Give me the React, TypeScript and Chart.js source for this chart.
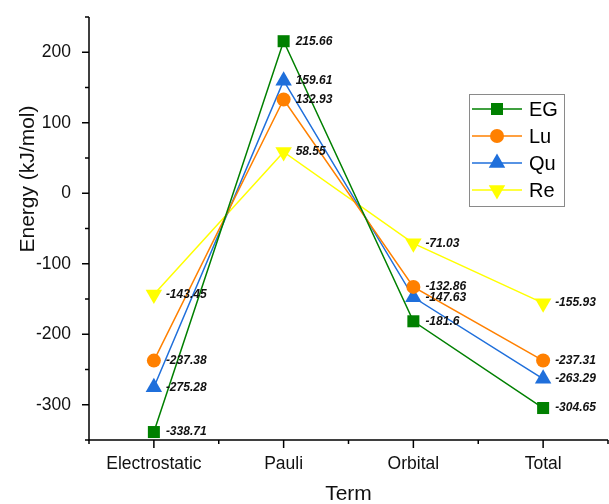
import React, { useEffect, useRef } from "react";
import { Chart, registerables } from "chart.js";

Chart.register(...registerables);

const categories = ["Electrostatic", "Pauli", "Orbital", "Total"];
const seriesNames = ["EG", "Lu", "Qu", "Re"];
const egValues = [-338.71, 215.66, -181.6, -304.65];
const luValues = [-237.38, 132.93, -132.86, -237.31];
const quValues = [-275.28, 159.61, -147.63, -263.29];
const reValues = [-143.45, 58.55, -71.03, -155.93];
const labelEG = ["-338.71", "215.66", "-181.6", "-304.65"];
const labelLu = ["-237.38", "132.93", "-132.86", "-237.31"];
const labelQu = ["-275.28", "159.61", "-147.63", "-263.29"];
const labelRe = ["-143.45", "58.55", "-71.03", "-155.93"];
const xTitle = "Term";
const yTitle = "Energy (kJ/mol)";

const FONT = "'Liberation Sans', Arial, sans-serif";

const styles = [
  { color: "#008000", pointStyle: "rect", radius: 8.5, rotation: 0 },
  { color: "#FF8000", pointStyle: "circle", radius: 7, rotation: 0 },
  { color: "#1F6FDB", pointStyle: "triangle", radius: 9.5, rotation: 0 },
  { color: "#FFFF00", pointStyle: "triangle", radius: 9.5, rotation: 180 },
];

const allValues = [egValues, luValues, quValues, reValues];
const allLabels = [labelEG, labelLu, labelQu, labelRe];

function drawMarker(ctx: CanvasRenderingContext2D, s: any, x: number, y: number) {
  ctx.fillStyle = s.color;
  ctx.beginPath();
  if (s.pointStyle === "rect") {
    const h = Math.SQRT1_2 * s.radius;
    ctx.rect(x - h, y - h, 2 * h, 2 * h);
  } else if (s.pointStyle === "circle") {
    ctx.arc(x, y, s.radius, 0, Math.PI * 2);
  } else {
    let rad = (s.rotation * Math.PI) / 180;
    const r = s.radius;
    ctx.moveTo(x + Math.sin(rad) * r, y - Math.cos(rad) * r);
    rad += (2 * Math.PI) / 3;
    ctx.lineTo(x + Math.sin(rad) * r, y - Math.cos(rad) * r);
    rad += (2 * Math.PI) / 3;
    ctx.lineTo(x + Math.sin(rad) * r, y - Math.cos(rad) * r);
    ctx.closePath();
  }
  ctx.fill();
}

const axesPlugin = {
  id: "customAxes",
  afterDraw(chart: any) {
    const ctx = chart.ctx;
    const { left, right, top, bottom } = chart.chartArea;
    const xs = chart.scales.x;
    const ys = chart.scales.y;
    ctx.save();
    ctx.strokeStyle = "#000";
    ctx.lineWidth = 1.5;
    ctx.beginPath();
    ctx.moveTo(left, top);
    ctx.lineTo(left, bottom);
    ctx.lineTo(right, bottom);
    ctx.stroke();
    ys.ticks.forEach((t: any) => {
      const y = ys.getPixelForValue(t.value);
      const major = Math.round(t.value) % 100 === 0;
      ctx.beginPath();
      ctx.moveTo(left, y);
      ctx.lineTo(left - (major ? 7 : 4), y);
      ctx.stroke();
    });
    xs.ticks.forEach((t: any) => {
      const x = xs.getPixelForValue(t.value);
      const major = Number.isInteger(t.value);
      ctx.beginPath();
      ctx.moveTo(x, bottom);
      ctx.lineTo(x, bottom + (major ? 8 : 4));
      ctx.stroke();
    });
    // axis titles
    ctx.fillStyle = "#111";
    ctx.font = "21px " + FONT;
    ctx.textAlign = "center";
    ctx.textBaseline = "middle";
    ctx.fillText(xTitle, (left + right) / 2, 494);
    ctx.save();
    ctx.translate(28, 179);
    ctx.rotate(-Math.PI / 2);
    ctx.fillText(yTitle, 0, 0);
    ctx.restore();
    ctx.restore();
  },
};

const labelPlugin = {
  id: "valueLabels",
  afterDatasetsDraw(chart: any) {
    const ctx = chart.ctx;
    ctx.save();
    ctx.font = "bold italic 12px " + FONT;
    ctx.fillStyle = "#111";
    ctx.textBaseline = "middle";
    ctx.textAlign = "left";
    chart.data.datasets.forEach((ds: any, di: number) => {
      const meta = chart.getDatasetMeta(di);
      meta.data.forEach((pt: any, i: number) => {
        ctx.fillText(allLabels[di][i], pt.x + 12, pt.y);
      });
    });
    ctx.restore();
  },
};

const legendPlugin = {
  id: "customLegend",
  afterDraw(chart: any) {
    const ctx = chart.ctx;
    ctx.save();
    const bx = 469.5, by = 94.5, bw = 95, bh = 112;
    ctx.strokeStyle = "#8a8a8a";
    ctx.lineWidth = 1;
    ctx.strokeRect(bx, by, bw, bh);
    ctx.font = "20px " + FONT;
    ctx.textBaseline = "middle";
    ctx.textAlign = "left";
    seriesNames.forEach((name, i) => {
      const y = 109 + i * 27;
      const s = styles[i];
      ctx.strokeStyle = s.color;
      ctx.lineWidth = 1.5;
      ctx.beginPath();
      ctx.moveTo(472, y);
      ctx.lineTo(522, y);
      ctx.stroke();
      drawMarker(ctx, s, 497, y);
      ctx.fillStyle = "#000";
      ctx.fillText(name, 529, y + 1);
    });
    ctx.restore();
  },
};

export default function App() {
  const ref = useRef<HTMLCanvasElement>(null);
  useEffect(() => {
    document.body.style.margin = "0";
    const canvas = ref.current!;
    const chart = new Chart(canvas, {
      type: "line",
      data: {
        datasets: allValues.map((vals, di) => ({
          label: seriesNames[di],
          data: vals.map((v, i) => ({ x: i, y: v })),
          borderColor: styles[di].color,
          backgroundColor: styles[di].color,
          borderWidth: 1.5,
          pointStyle: styles[di].pointStyle as any,
          pointRadius: styles[di].radius,
          pointRotation: styles[di].rotation,
          pointBorderWidth: 0,
          pointBackgroundColor: styles[di].color,
          tension: 0,
          clip: false as any,
        })),
      },
      options: {
        responsive: false,
        animation: false,
        events: [],
        layout: { autoPadding: false, padding: { top: 17, right: 1, left: 0, bottom: 0 } },
        plugins: { legend: { display: false }, tooltip: { enabled: false } },
        scales: {
          x: {
            type: "linear",
            min: -0.5,
            max: 3.5,
            grid: { display: false },
            border: { display: false },
            afterFit: (s: any) => {
              s.height = 64;
              s.paddingRight = 0;
              s.paddingLeft = 0;
            },
            ticks: {
              stepSize: 0.5,
              autoSkip: false,
              maxRotation: 0,
              padding: 6,
              color: "#111",
              font: { family: FONT, size: 17.5 },
              callback: (v: any) => (Number.isInteger(v) ? categories[v] : ""),
            },
          },
          y: {
            type: "linear",
            min: -350,
            max: 250,
            grid: { display: false },
            border: { display: false },
            afterFit: (s: any) => {
              s.width = 89;
              s.paddingTop = 0;
              s.paddingBottom = 0;
            },
            ticks: {
              stepSize: 50,
              autoSkip: false,
              padding: 10,
              color: "#111",
              font: { family: FONT, size: 17.5 },
              callback: (v: any) => (Math.round(v) % 100 === 0 ? String(v) : ""),
            },
          },
        },
      },
      plugins: [axesPlugin, labelPlugin, legendPlugin],
    });
    return () => chart.destroy();
  }, []);
  return <canvas ref={ref} width={609} height={504} style={{ display: "block" }} />;
}
